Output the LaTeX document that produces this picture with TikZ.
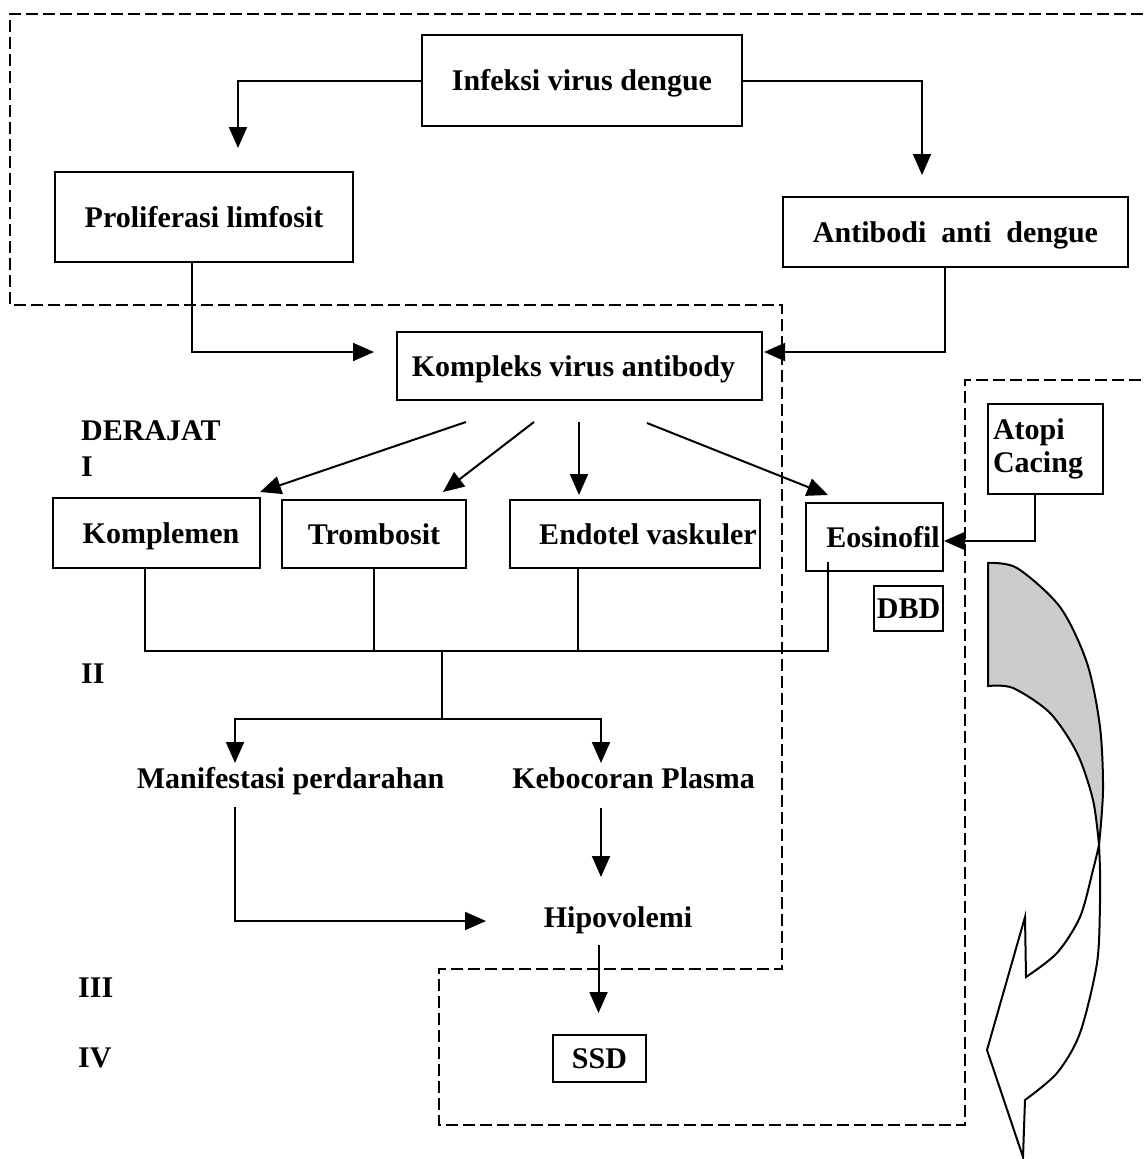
\documentclass[tikz,border=0pt]{standalone}
\usepackage{fontspec}
\setmainfont{Liberation Serif}
\usetikzlibrary{arrows.meta}
\begin{document}
\begin{tikzpicture}[x=1pt,y=-1pt,
  every node/.style={font=\fontsize{30}{33}\selectfont\bfseries, text height=20pt, text depth=0pt, inner sep=0pt},
  box/.style={draw, line width=2pt},
  arr/.style={line width=2pt, -{Triangle[length=21pt,width=18pt]}},
  ln/.style={line width=2pt},
  dashbox/.style={line width=2pt, dash pattern=on 12pt off 5pt}
]
\useasboundingbox (0,0) rectangle (1143,1159);

% dashed region boundary
\draw[dashbox] (1143,14) -- (10,14) -- (10,305) -- (782,305) -- (782,969) -- (439,969) -- (439,1125) -- (965,1125) -- (965,380) -- (1143,380);

% boxes
\node[box, minimum width=320pt, minimum height=91pt] (infeksi) at (582,80.5) {Infeksi virus dengue};
\node[box, minimum width=298pt, minimum height=90pt] (prolif) at (204,217) {Proliferasi limfosit};
\node[box, minimum width=345pt, minimum height=70pt] (antibodi) at (955.5,232) {Antibodi\ \ anti\ \ dengue};
\node[box, minimum width=365pt, minimum height=68pt] (kompleks) at (579.5,366) {\hspace*{-12pt}Kompleks virus antibody};
\node[box, minimum width=207pt, minimum height=70pt] (komplemen) at (156.5,533) {\hspace*{9pt}Komplemen};
\node[box, minimum width=184pt, minimum height=68pt] (trombosit) at (374,534) {Trombosit};
\node[box, minimum width=250pt, minimum height=68pt] (endotel) at (635,534) {\hspace*{26pt}Endotel vaskuler};
\node[box, minimum width=137pt, minimum height=68pt] (eosinofil) at (874.5,537) {\hspace*{17pt}Eosinofil};
\node[box, minimum width=69pt, minimum height=45pt] (dbd) at (908.5,608.5) {DBD};
\node[box, minimum width=115pt, minimum height=90pt, text width=105pt, inner xsep=5pt, align=left, text height=, text depth=] (atopi) at (1045.5,449) {Atopi\\Cacing};
\node[box, minimum width=93pt, minimum height=47pt] (ssd) at (599.5,1058.5) {SSD};

% plain texts
\node (manif) at (290.5,778) {Manifestasi perdarahan};
\node (kebocoran) at (633.5,778) {Kebocoran Plasma};
\node (hipo) at (618,917) {Hipovolemi};
\node[anchor=west] (derajat) at (81,430) {DERAJAT};
\node[anchor=west] (dI) at (81,466) {I};
\node[anchor=west] (dII) at (81,673) {II};
\node[anchor=west] (dIII) at (78,987) {III};
\node[anchor=west] (dIV) at (78,1057) {IV};

% top connectors
\coordinate (tipL) at (238,148);
\coordinate (tipR) at (922,175);
\draw[arr] (infeksi.west) -| (tipL);
\draw[arr] (infeksi.east) -| (tipR);
\coordinate (kL) at (374,352);
\coordinate (kR) at (764,352);
\draw[arr] ([xshift=-12.5pt]prolif.south) |- (kL);
\draw[arr] ([xshift=-10.5pt]antibodi.south) |- (kR);

% kompleks fan-out
\coordinate (s1) at (466,422); \coordinate (t1) at (260,492);
\coordinate (s2) at (534,422); \coordinate (t2) at (443,492);
\coordinate (s3) at (579,422); \coordinate (t3) at (579,495);
\coordinate (s4) at (647,423); \coordinate (t4) at (828,495);
\draw[arr] (s1) -- (t1);
\draw[arr] (s2) -- (t2);
\draw[arr] (s3) -- (t3);
\draw[arr] (s4) -- (t4);

% atopi to eosinofil
\coordinate (atb) at (1035,541);
\draw[arr] (atopi.south -| atb) -- (atb) -- (eosinofil.east |- atb);

% collector bus
\coordinate (busL) at (145,651);
\coordinate (busR) at (828,651);
\coordinate (eosTop) at (828,562);
\coordinate (endX) at (578,651);
\draw[ln] (komplemen.south -| busL) -- (busL) -- (busR) -- (eosTop);
\draw[ln] (trombosit.south) -- (trombosit.south |- busL);
\draw[ln] (endotel.south -| endX) -- (endX);

% split
\coordinate (sp) at (441.5,651);
\coordinate (spB) at (441.5,719);
\coordinate (mT) at (235,763);
\coordinate (kT) at (601,763);
\draw[ln] (sp) -- (spB);
\draw[arr] (spB) -| (mT);
\draw[arr] (spB) -| (kT);

% lower flow
\coordinate (m1) at (235,807);
\coordinate (hT) at (486,921);
\draw[arr] (m1) |- (hT);
\coordinate (k1) at (601,808);
\coordinate (k2) at (601,877);
\draw[arr] (k1) -- (k2);
\coordinate (h1) at (598.5,945);
\coordinate (h2) at (598.5,1013);
\draw[arr] (h1) -- (h2);

% big curved arrow
\draw[line width=2pt, fill=gray!40]
  plot[smooth] coordinates {(988,563) (1017,568) (1060,607) (1087,663) (1100,727) (1103,790) (1099,845)}
  -- plot[smooth] coordinates {(1099,845) (1093,800) (1077,753) (1050,713) (1013,688) (988,686)}
  -- cycle;
\draw[line width=2pt, fill=white, line join=miter]
  plot[smooth] coordinates {(1099,845) (1100,870) (1100,903) (1097,963) (1080,1033) (1057,1073) (1025,1100)}
  -- (1023,1157) -- (987,1050) -- (1025,917) -- (1026,977)
  -- plot[smooth] coordinates {(1026,977) (1057,953) (1080,917) (1093,870) (1099,845)}
  -- cycle;
\end{tikzpicture}
\end{document}
